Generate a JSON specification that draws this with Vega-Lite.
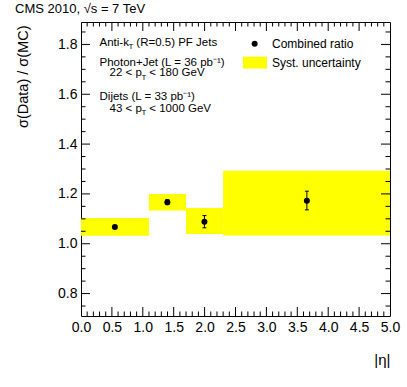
{
  "$schema": "https://vega.github.io/schema/vega-lite/v6.json",
  "width": 309,
  "height": 294,
  "autosize": {"type": "none"},
  "padding": {"left": 81, "top": 22, "right": 17, "bottom": 71},
  "background": "white",
  "config": {
    "font": "Liberation Sans",
    "view": {"stroke": "black", "strokeWidth": 1, "fill": null},
    "axis": {
      "grid": false,
      "ticks": false,
      "domain": false,
      "labelColor": "black",
      "titleColor": "black",
      "labelFont": "Liberation Sans",
      "titleFont": "Liberation Sans",
      "labelFontSize": 14,
      "titleFontWeight": "normal"
    }
  },
  "title": {"text": "CMS 2010, √s = 7 TeV", "anchor": "start", "fontSize": 13, "fontWeight": "normal", "offset": 6, "color": "black", "font": "Liberation Sans"},
  "datasets": {
    "boxes": [
      {"x1": 0.0, "x2": 1.1, "y1": 1.032, "y2": 1.103},
      {"x1": 1.1, "x2": 1.7, "y1": 1.133, "y2": 1.2},
      {"x1": 1.7, "x2": 2.3, "y1": 1.039, "y2": 1.143},
      {"x1": 2.3, "x2": 5.0, "y1": 1.033, "y2": 1.293}
    ],
    "points": [
      {"eta": 0.548, "r": 1.067, "lo": 1.062, "hi": 1.072},
      {"eta": 1.397, "r": 1.167, "lo": 1.157, "hi": 1.177},
      {"eta": 1.997, "r": 1.088, "lo": 1.064, "hi": 1.113},
      {"eta": 3.655, "r": 1.173, "lo": 1.136, "hi": 1.211}
    ],
    "xmaj": [{"v": 0.5}, {"v": 1.0}, {"v": 1.5}, {"v": 2.0}, {"v": 2.5}, {"v": 3.0}, {"v": 3.5}, {"v": 4.0}, {"v": 4.5}],
    "xmin": [{"v": 0.1}, {"v": 0.2}, {"v": 0.3}, {"v": 0.4}, {"v": 0.6}, {"v": 0.7}, {"v": 0.8}, {"v": 0.9}, {"v": 1.1}, {"v": 1.2}, {"v": 1.3}, {"v": 1.4}, {"v": 1.6}, {"v": 1.7}, {"v": 1.8}, {"v": 1.9}, {"v": 2.1}, {"v": 2.2}, {"v": 2.3}, {"v": 2.4}, {"v": 2.6}, {"v": 2.7}, {"v": 2.8}, {"v": 2.9}, {"v": 3.1}, {"v": 3.2}, {"v": 3.3}, {"v": 3.4}, {"v": 3.6}, {"v": 3.7}, {"v": 3.8}, {"v": 3.9}, {"v": 4.1}, {"v": 4.2}, {"v": 4.3}, {"v": 4.4}, {"v": 4.6}, {"v": 4.7}, {"v": 4.8}, {"v": 4.9}],
    "ymaj": [{"v": 0.8}, {"v": 1.0}, {"v": 1.2}, {"v": 1.4}, {"v": 1.6}, {"v": 1.8}],
    "ymin": [{"v": 0.75}, {"v": 0.85}, {"v": 0.9}, {"v": 0.95}, {"v": 1.05}, {"v": 1.1}, {"v": 1.15}, {"v": 1.25}, {"v": 1.3}, {"v": 1.35}, {"v": 1.45}, {"v": 1.5}, {"v": 1.55}, {"v": 1.65}, {"v": 1.7}, {"v": 1.75}, {"v": 1.85}],
    "legrect": [{"x1": 2.62, "x2": 3.01, "y1": 1.703, "y2": 1.751}],
    "legpoint": [{"x": 2.81, "y": 1.803}],
    "legtext": [
      {"x": 3.09, "y": 1.803, "t": "Combined ratio"},
      {"x": 3.09, "y": 1.727, "t": "Syst. uncertainty"}
    ],
    "notes": [
      {"x": 0.30, "y": 1.807, "t": "Anti-k"},
      {"x": 0.895, "y": 1.807, "t": "(R=0.5) PF Jets"},
      {"x": 0.30, "y": 1.727, "t": "Photon+Jet (L = 36 pb⁻¹)"},
      {"x": 0.462, "y": 1.684, "t": "22 < p"},
      {"x": 1.105, "y": 1.684, "t": "< 180 GeV"},
      {"x": 0.30, "y": 1.589, "t": "Dijets (L = 33 pb⁻¹)"},
      {"x": 0.462, "y": 1.542, "t": "43 < p"},
      {"x": 1.105, "y": 1.542, "t": "< 1000 GeV"}
    ],
    "subs": [
      {"x": 0.768, "y": 1.789, "t": "T"},
      {"x": 0.977, "y": 1.666, "t": "T"},
      {"x": 0.977, "y": 1.524, "t": "T"}
    ]
  },
  "layer": [
    {
      "data": {"name": "boxes"},
      "mark": {"type": "rect", "color": "#ffff00"},
      "encoding": {
        "x": {"field": "x1", "type": "quantitative", "scale": {"domain": [0, 5], "nice": false, "zero": false},
          "axis": {"orient": "bottom", "values": [0, 0.5, 1, 1.5, 2, 2.5, 3, 3.5, 4, 4.5, 5], "format": ".1f",
            "labelPadding": 4, "labelFlush": false, "labelOverlap": false,
            "title": "|η|", "titleFontSize": 15, "titleX": 309, "titleY": 43, "titleAlign": "right", "titleBaseline": "middle"}},
        "x2": {"field": "x2"},
        "y": {"field": "y1", "type": "quantitative", "scale": {"domain": [0.71, 1.89], "nice": false, "zero": false},
          "axis": {"orient": "left", "values": [0.8, 1.0, 1.2, 1.4, 1.6, 1.8], "format": ".1f",
            "labelPadding": 4, "labelFlush": false, "labelOverlap": false,
            "title": "σ(Data) / σ(MC)", "titleFontSize": 14.5, "titleX": -58, "titleY": 3, "titleAngle": -90, "titleAlign": "right", "titleBaseline": "middle"}},
        "y2": {"field": "y2"}
      }
    },
    {
      "data": {"name": "legrect"},
      "mark": {"type": "rect", "color": "#ffff00"},
      "encoding": {
        "x": {"field": "x1", "type": "quantitative", "scale": {"domain": [0, 5], "nice": false, "zero": false}, "axis": null},
        "x2": {"field": "x2"},
        "y": {"field": "y1", "type": "quantitative", "scale": {"domain": [0.71, 1.89], "nice": false, "zero": false}, "axis": null},
        "y2": {"field": "y2"}
      }
    },
    {
      "data": {"name": "xmaj"},
      "mark": {"type": "rule", "color": "black", "strokeWidth": 1, "y2Offset": -9},
      "encoding": {
        "x": {"field": "v", "type": "quantitative", "scale": {"domain": [0, 5], "nice": false, "zero": false}, "axis": null},
        "y": {"datum": 0.71, "type": "quantitative", "scale": {"domain": [0.71, 1.89], "nice": false, "zero": false}, "axis": null},
        "y2": {"datum": 0.71}
      }
    },
    {
      "data": {"name": "xmaj"},
      "mark": {"type": "rule", "color": "black", "strokeWidth": 1, "y2Offset": 9},
      "encoding": {
        "x": {"field": "v", "type": "quantitative", "scale": {"domain": [0, 5], "nice": false, "zero": false}, "axis": null},
        "y": {"datum": 1.89, "type": "quantitative", "scale": {"domain": [0.71, 1.89], "nice": false, "zero": false}, "axis": null},
        "y2": {"datum": 1.89}
      }
    },
    {
      "data": {"name": "xmin"},
      "mark": {"type": "rule", "color": "black", "strokeWidth": 1, "y2Offset": -4.5},
      "encoding": {
        "x": {"field": "v", "type": "quantitative", "scale": {"domain": [0, 5], "nice": false, "zero": false}, "axis": null},
        "y": {"datum": 0.71, "type": "quantitative", "scale": {"domain": [0.71, 1.89], "nice": false, "zero": false}, "axis": null},
        "y2": {"datum": 0.71}
      }
    },
    {
      "data": {"name": "xmin"},
      "mark": {"type": "rule", "color": "black", "strokeWidth": 1, "y2Offset": 4.5},
      "encoding": {
        "x": {"field": "v", "type": "quantitative", "scale": {"domain": [0, 5], "nice": false, "zero": false}, "axis": null},
        "y": {"datum": 1.89, "type": "quantitative", "scale": {"domain": [0.71, 1.89], "nice": false, "zero": false}, "axis": null},
        "y2": {"datum": 1.89}
      }
    },
    {
      "data": {"name": "ymaj"},
      "mark": {"type": "rule", "color": "black", "strokeWidth": 1, "x2Offset": 9},
      "encoding": {
        "y": {"field": "v", "type": "quantitative", "scale": {"domain": [0.71, 1.89], "nice": false, "zero": false}, "axis": null},
        "x": {"datum": 0, "type": "quantitative", "scale": {"domain": [0, 5], "nice": false, "zero": false}, "axis": null},
        "x2": {"datum": 0}
      }
    },
    {
      "data": {"name": "ymaj"},
      "mark": {"type": "rule", "color": "black", "strokeWidth": 1, "x2Offset": -9},
      "encoding": {
        "y": {"field": "v", "type": "quantitative", "scale": {"domain": [0.71, 1.89], "nice": false, "zero": false}, "axis": null},
        "x": {"datum": 5, "type": "quantitative", "scale": {"domain": [0, 5], "nice": false, "zero": false}, "axis": null},
        "x2": {"datum": 5}
      }
    },
    {
      "data": {"name": "ymin"},
      "mark": {"type": "rule", "color": "black", "strokeWidth": 1, "x2Offset": 4.5},
      "encoding": {
        "y": {"field": "v", "type": "quantitative", "scale": {"domain": [0.71, 1.89], "nice": false, "zero": false}, "axis": null},
        "x": {"datum": 0, "type": "quantitative", "scale": {"domain": [0, 5], "nice": false, "zero": false}, "axis": null},
        "x2": {"datum": 0}
      }
    },
    {
      "data": {"name": "ymin"},
      "mark": {"type": "rule", "color": "black", "strokeWidth": 1, "x2Offset": -4.5},
      "encoding": {
        "y": {"field": "v", "type": "quantitative", "scale": {"domain": [0.71, 1.89], "nice": false, "zero": false}, "axis": null},
        "x": {"datum": 5, "type": "quantitative", "scale": {"domain": [0, 5], "nice": false, "zero": false}, "axis": null},
        "x2": {"datum": 5}
      }
    },
    {
      "data": {"name": "points"},
      "mark": {"type": "rule", "color": "black", "strokeWidth": 1},
      "encoding": {
        "x": {"field": "eta", "type": "quantitative", "scale": {"domain": [0, 5], "nice": false, "zero": false}, "axis": null},
        "y": {"field": "lo", "type": "quantitative", "scale": {"domain": [0.71, 1.89], "nice": false, "zero": false}, "axis": null},
        "y2": {"field": "hi"}
      }
    },
    {
      "data": {"name": "points"},
      "transform": [{"fold": ["lo", "hi"], "as": ["k", "v"]}],
      "mark": {"type": "tick", "orient": "horizontal", "size": 4, "thickness": 1, "color": "black", "opacity": 1},
      "encoding": {
        "x": {"field": "eta", "type": "quantitative", "scale": {"domain": [0, 5], "nice": false, "zero": false}, "axis": null},
        "y": {"field": "v", "type": "quantitative", "scale": {"domain": [0.71, 1.89], "nice": false, "zero": false}, "axis": null}
      }
    },
    {
      "data": {"name": "points"},
      "mark": {"type": "point", "filled": true, "color": "black", "size": 36, "opacity": 1},
      "encoding": {
        "x": {"field": "eta", "type": "quantitative", "scale": {"domain": [0, 5], "nice": false, "zero": false}, "axis": null},
        "y": {"field": "r", "type": "quantitative", "scale": {"domain": [0.71, 1.89], "nice": false, "zero": false}, "axis": null}
      }
    },
    {
      "data": {"name": "legpoint"},
      "mark": {"type": "point", "filled": true, "color": "black", "size": 36, "opacity": 1},
      "encoding": {
        "x": {"field": "x", "type": "quantitative", "scale": {"domain": [0, 5], "nice": false, "zero": false}, "axis": null},
        "y": {"field": "y", "type": "quantitative", "scale": {"domain": [0.71, 1.89], "nice": false, "zero": false}, "axis": null}
      }
    },
    {
      "data": {"name": "legtext"},
      "mark": {"type": "text", "align": "left", "baseline": "middle", "fontSize": 12, "color": "black", "font": "Liberation Sans"},
      "encoding": {
        "x": {"field": "x", "type": "quantitative", "scale": {"domain": [0, 5], "nice": false, "zero": false}, "axis": null},
        "y": {"field": "y", "type": "quantitative", "scale": {"domain": [0.71, 1.89], "nice": false, "zero": false}, "axis": null},
        "text": {"field": "t"}
      }
    },
    {
      "data": {"name": "notes"},
      "mark": {"type": "text", "align": "left", "baseline": "middle", "fontSize": 11.5, "color": "black", "font": "Liberation Sans"},
      "encoding": {
        "x": {"field": "x", "type": "quantitative", "scale": {"domain": [0, 5], "nice": false, "zero": false}, "axis": null},
        "y": {"field": "y", "type": "quantitative", "scale": {"domain": [0.71, 1.89], "nice": false, "zero": false}, "axis": null},
        "text": {"field": "t"}
      }
    },
    {
      "data": {"name": "subs"},
      "mark": {"type": "text", "align": "left", "baseline": "middle", "fontSize": 8, "color": "black", "font": "Liberation Sans"},
      "encoding": {
        "x": {"field": "x", "type": "quantitative", "scale": {"domain": [0, 5], "nice": false, "zero": false}, "axis": null},
        "y": {"field": "y", "type": "quantitative", "scale": {"domain": [0.71, 1.89], "nice": false, "zero": false}, "axis": null},
        "text": {"field": "t"}
      }
    }
  ],
  "resolve": {"scale": {"x": "shared", "y": "shared"}, "axis": {"x": "independent", "y": "independent"}}
}
